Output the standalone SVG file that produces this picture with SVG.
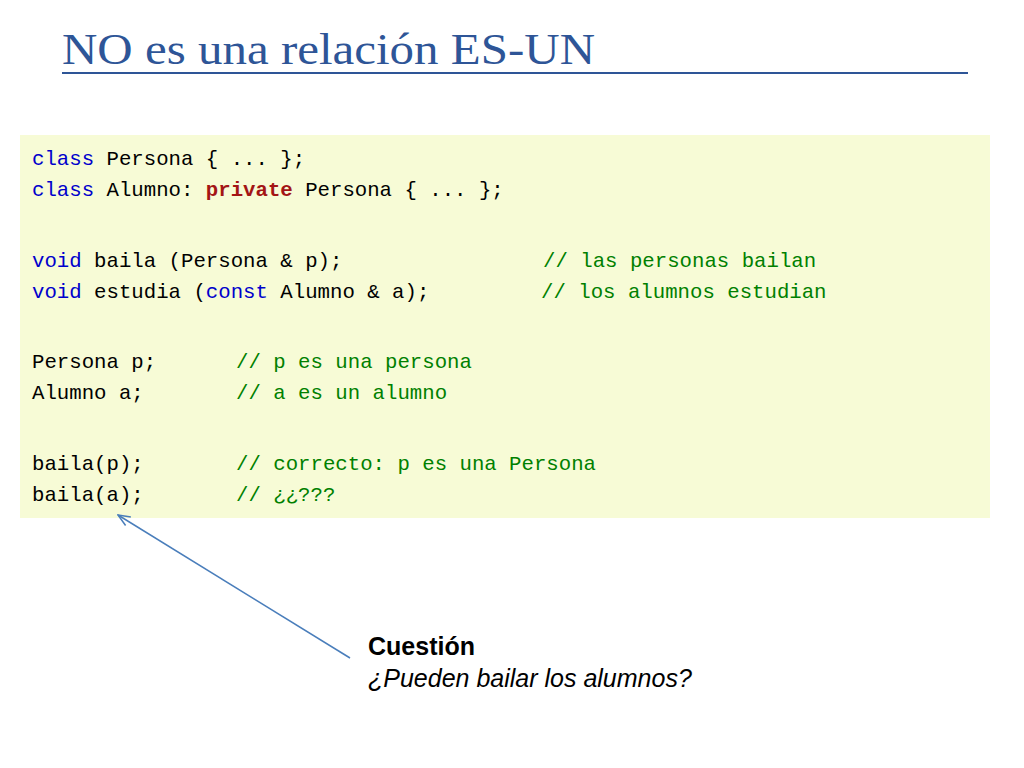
<svg xmlns="http://www.w3.org/2000/svg" width="1024" height="768" viewBox="0 0 1024 768">
<style>
.c{font-family:"Liberation Mono","DejaVu Sans Mono",monospace;font-size:20.7px;fill:#000}
.k{fill:#0000CC}.p{fill:#A31515;font-weight:bold}.g{fill:#008000}
.q{font-family:"Liberation Sans",Arial,sans-serif;font-size:25px;fill:#000}
</style>
<defs><marker id="a" markerWidth="14" markerHeight="12" refX="13" refY="6" orient="auto" markerUnits="userSpaceOnUse"><path d="M1,1 L13,6 L1,11" fill="none" stroke="#4A7EBB" stroke-width="1.5"/></marker></defs>
<rect width="1024" height="768" fill="#fff"/>
<text x="62" y="64" font-family="Liberation Serif,serif" font-size="40" fill="#2E5597" textLength="533" lengthAdjust="spacingAndGlyphs" style="font-size:44px">NO es una relación ES-UN</text>
<line x1="62" y1="73" x2="968" y2="73" stroke="#2E5597" stroke-width="2"/>
<g id="code">
<rect x="20" y="135" width="970" height="383" fill="#F7FBD6"/>
<text class="c" y="165"><tspan x="32" class="k">class</tspan> Persona { ... };</text>
<text class="c" y="196"><tspan x="32" class="k">class</tspan> Alumno: <tspan class="p">private</tspan> Persona { ... };</text>
<text class="c" y="267"><tspan x="32" class="k">void</tspan> baila (Persona &amp; p);<tspan x="543" class="g">// las personas bailan</tspan></text>
<text class="c" y="298"><tspan x="32" class="k">void</tspan> estudia (<tspan class="k">const</tspan> Alumno &amp; a);<tspan x="541" class="g">// los alumnos estudian</tspan></text>
<text class="c" y="368"><tspan x="32">Persona p;</tspan><tspan x="236" class="g">// p es una persona</tspan></text>
<text class="c" y="399"><tspan x="32">Alumno a;</tspan><tspan x="236" class="g">// a es un alumno</tspan></text>
<text class="c" y="470"><tspan x="32">baila(p);</tspan><tspan x="236" class="g">// correcto: p es una Persona</tspan></text>
<text class="c" y="501"><tspan x="32">baila(a);</tspan><tspan x="236" class="g">// ¿¿???</tspan></text>
</g>
<g id="connectors"><line x1="350" y1="658" x2="118" y2="515" stroke="#4A7EBB" stroke-width="1.5" marker-end="url(#a)"/></g>
<g id="question">
<text class="q" x="368" y="655" font-weight="bold">Cuestión</text>
<text class="q" x="368" y="687" font-style="italic">¿Pueden bailar los alumnos?</text>
</g>
</svg>
